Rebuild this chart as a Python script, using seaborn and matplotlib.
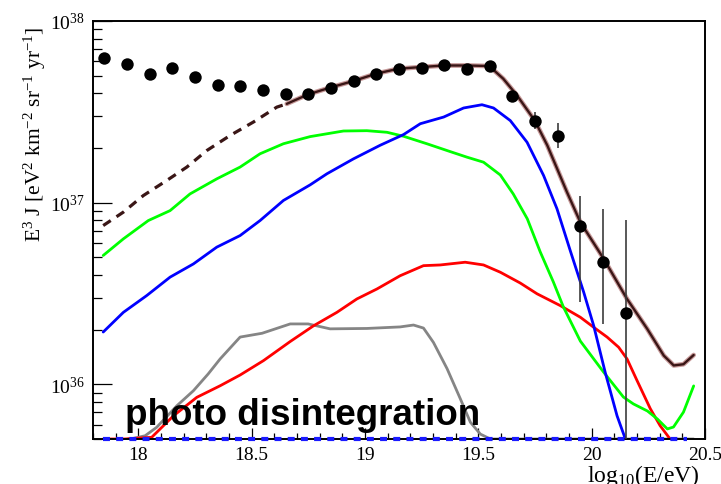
import numpy as np
import pandas as pd
import matplotlib
matplotlib.use("Agg")
import matplotlib.pyplot as plt
import seaborn as sns

# ---------------- data ----------------
data_lgE = [17.85, 17.95, 18.05, 18.15, 18.25, 18.35, 18.45, 18.55, 18.65, 18.75,
            18.85, 18.95, 19.05, 19.15, 19.25, 19.35, 19.45, 19.55, 19.65, 19.75,
            19.85, 19.95, 20.05, 20.15]
data_flux = [6.28e37, 5.82e37, 5.13e37, 5.51e37, 4.89e37, 4.44e37, 4.39e37, 4.18e37,
             3.94e37, 3.94e37, 4.30e37, 4.65e37, 5.08e37, 5.41e37, 5.53e37, 5.74e37,
             5.46e37, 5.65e37, 3.87e37, 2.83e37, 2.34e37, 7.48e36, 4.70e36, 2.47e36]
err_lgE = [19.75, 19.85, 19.95, 20.05, 20.15]
err_low = [2.53e37, 2.00e37, 2.85e36, 2.15e36, 1.0e35]
err_high = [3.16e37, 2.75e37, 1.09e37, 9.25e36, 8.05e36]

total_dash_lgE = [17.845, 17.934, 18.022, 18.125, 18.214, 18.302, 18.405, 18.508, 18.611, 18.655]
total_dash_flux = [7.48e36, 8.87e36, 1.094e37, 1.324e37, 1.570e37, 1.936e37, 2.344e37,
                   2.780e37, 3.357e37, 3.50e37]

total_lgE = [18.655, 18.748, 18.846, 18.948, 19.049, 19.147, 19.248, 19.350, 19.450,
             19.548, 19.610, 19.671, 19.749, 19.804, 19.891, 19.950, 20.053, 20.156,
             20.245, 20.318, 20.362, 20.405, 20.450]
total_flux = [3.50e37, 3.94e37, 4.30e37, 4.67e37, 5.13e37, 5.46e37, 5.58e37, 5.69e37,
              5.69e37, 5.65e37, 4.81e37, 3.89e37, 2.83e37, 2.07e37, 1.143e37, 7.81e36,
              4.91e36, 2.95e36, 2.02e36, 1.44e36, 1.27e36, 1.29e36, 1.45e36]

green_lgE = [17.845, 17.934, 18.044, 18.140, 18.228, 18.346, 18.449, 18.537, 18.640,
             18.758, 18.905, 19.008, 19.097, 19.170, 19.273, 19.376, 19.450, 19.523,
             19.597, 19.654, 19.716, 19.773, 19.831, 19.875, 19.950, 20.052, 20.140,
             20.184, 20.246, 20.290, 20.334, 20.361, 20.405, 20.450]
green_flux = [5.12e36, 6.32e36, 7.97e36, 9.04e36, 1.117e37, 1.352e37, 1.570e37, 1.858e37,
              2.11e37, 2.31e37, 2.48e37, 2.49e37, 2.44e37, 2.32e37, 2.11e37, 1.91e37,
              1.78e37, 1.67e37, 1.42e37, 1.117e37, 8.15e36, 5.36e36, 3.66e36, 2.67e36,
              1.73e36, 1.17e36, 8.51e35, 7.80e35, 7.13e35, 6.44e35, 5.68e35, 5.82e35,
              7.03e35, 9.80e35]

blue_lgE = [17.845, 17.934, 18.037, 18.140, 18.243, 18.346, 18.449, 18.537, 18.640,
            18.758, 18.832, 18.949, 19.067, 19.170, 19.244, 19.347, 19.435, 19.516,
            19.567, 19.641, 19.715, 19.788, 19.847, 19.906, 19.965, 20.009, 20.060,
            20.112, 20.146]
blue_flux = [1.94e36, 2.49e36, 3.08e36, 3.89e36, 4.60e36, 5.69e36, 6.59e36, 7.97e36,
             1.028e37, 1.253e37, 1.442e37, 1.742e37, 2.07e37, 2.37e37, 2.72e37, 2.96e37,
             3.32e37, 3.46e37, 3.32e37, 2.83e37, 2.15e37, 1.41e37, 9.25e36, 5.42e36,
             3.21e36, 2.10e36, 1.16e36, 6.71e35, 5.11e35]

red_lgE = [17.845, 17.94, 18.059, 18.155, 18.258, 18.361, 18.449, 18.552, 18.670, 18.773,
           18.876, 18.964, 19.053, 19.155, 19.258, 19.332, 19.442, 19.523, 19.597,
           19.685, 19.759, 19.862, 19.950, 20.009, 20.068, 20.119, 20.156, 20.200,
           20.259, 20.302, 20.346]
red_flux = [5.0e35, 5.0e35, 5.11e35, 6.71e35, 8.48e35, 9.82e35, 1.125e36, 1.35e36, 1.72e36,
            2.10e36, 2.49e36, 2.95e36, 3.35e36, 3.96e36, 4.50e36, 4.54e36, 4.70e36,
            4.54e36, 4.14e36, 3.61e36, 3.15e36, 2.71e36, 2.34e36, 2.06e36, 1.82e36,
            1.60e36, 1.38e36, 1.05e36, 7.33e35, 5.92e35, 5.0e35]

gray_lgE = [17.955, 17.978, 18.030, 18.081, 18.170, 18.243, 18.308, 18.361, 18.449,
            18.546, 18.670, 18.749, 18.846, 19.008, 19.155, 19.214, 19.258, 19.302,
            19.362, 19.421, 19.465, 19.509, 19.553, 20.45]
gray_flux = [5.0e35, 5.04e35, 5.21e35, 5.80e35, 7.62e35, 9.22e35, 1.14e36, 1.38e36,
             1.82e36, 1.91e36, 2.15e36, 2.15e36, 2.02e36, 2.03e36, 2.07e36, 2.12e36,
             2.04e36, 1.70e36, 1.22e36, 8.3e35, 6.18e35, 5.32e35, 5.0e35, 5.0e35]

proton_lgE = [17.845, 20.42]
proton_flux = [5.0e35, 5.0e35]

x_tick_values = [18, 18.5, 19, 19.5, 20, 20.5]
x_tick_labels = ["18", "18.5", "19", "19.5", "20", "20.5"]
y_tick_values = [1e36, 1e37, 1e38]

# ---------------- style ----------------
sns.set_style("ticks")
plt.rcParams["font.family"] = ["Liberation Serif", "DejaVu Serif"]
plt.rcParams["mathtext.fontset"] = "custom"
plt.rcParams["mathtext.rm"] = "Liberation Serif"
plt.rcParams["mathtext.it"] = "Liberation Serif:italic"
plt.rcParams["mathtext.bf"] = "Liberation Serif:bold"
plt.rcParams["lines.scale_dashes"] = False
for k in ["text.color", "axes.labelcolor", "xtick.color", "ytick.color", "axes.edgecolor"]:
    plt.rcParams[k] = "black"

fig = plt.figure(figsize=(7.21, 4.85), dpi=100)
ax = fig.add_axes([93 / 721, 45 / 485, 612 / 721, 418 / 485])
ax.set_yscale("log")

def curve(x, y, **kw):
    df = pd.DataFrame({"lgE": x, "flux": y})
    return sns.lineplot(data=df, x="lgE", y="flux", ax=ax, sort=False,
                        estimator=None, legend=False, **kw)

curve(gray_lgE, gray_flux, color="#858585", lw=2.0, zorder=2)
curve(red_lgE, red_flux, color="#ff0000", lw=2.0, zorder=2)
curve(green_lgE, green_flux, color="#00ff00", lw=2.0, zorder=2)
curve(blue_lgE, blue_flux, color="#0000ff", lw=2.0, zorder=2)
curve(total_lgE, total_flux, color="#c79a9a", lw=3.4, zorder=2.2)
curve(total_lgE, total_flux, color="#3a1616", lw=1.7, zorder=2.3)
ln = curve(total_dash_lgE, total_dash_flux, color="#3a1616", lw=2.3, zorder=2.3).lines[-1]
ln.set_dashes((6.5, 5.0))
lp = curve(proton_lgE, proton_flux, color="#1a1aff", lw=3.0, zorder=3.5).lines[-1]
lp.set_dashes((5.0, 4.5))
lp.set_clip_on(False)

ax.vlines(err_lgE, err_low, err_high, colors="#3c3c3c", lw=1.2, zorder=3)
sns.scatterplot(x=data_lgE, y=data_flux, ax=ax, color="black", s=80,
                edgecolor="black", linewidth=0, zorder=4, legend=False)

ax.set_xlim(17.8, 20.5)
ax.set_ylim(5e35, 1e38)

ax.set_xticks(x_tick_values)
ax.set_xticklabels(x_tick_labels)
ax.xaxis.set_minor_locator(matplotlib.ticker.MultipleLocator(0.1))
ax.set_yticks(y_tick_values)
ax.yaxis.set_minor_locator(matplotlib.ticker.LogLocator(base=10, subs=np.arange(2, 10)))
ax.yaxis.set_minor_formatter(matplotlib.ticker.NullFormatter())

ax.tick_params(axis="x", which="major", direction="in", length=8, width=0.9,
               labelsize=14, pad=5, top=False, colors="black")
ax.tick_params(axis="x", which="minor", direction="in", length=4.3, width=0.9, top=False,
               colors="black")
ax.tick_params(axis="y", which="major", direction="in", length=13.5, width=0.9,
               labelsize=14, pad=6, right=False, colors="black")
ax.tick_params(axis="y", which="minor", direction="in", length=6.5, width=0.9, right=False,
               colors="black")

for s in ax.spines.values():
    s.set_linewidth(1.4)
    s.set_color("black")

ax.set_xlabel(r"log$_{10}$(E/eV)", fontsize=17, loc="right", color="black")
ax.xaxis.set_label_coords(0.992, -0.056)
ax.set_ylabel(r"E$^{3}$ J [eV$^{2}$ km$^{-2}$ sr$^{-1}$ yr$^{-1}$]", fontsize=15.5,
              loc="top", color="black")
ax.yaxis.set_label_coords(-0.074, 0.99)

ax.text(0.052, 0.036, "photo disintegration", transform=ax.transAxes,
        fontfamily=["Liberation Sans", "DejaVu Sans"], fontweight="bold", color="black",
        fontsize=26.5, va="baseline", ha="left", zorder=5)

fig.savefig("out.png", dpi=100)
